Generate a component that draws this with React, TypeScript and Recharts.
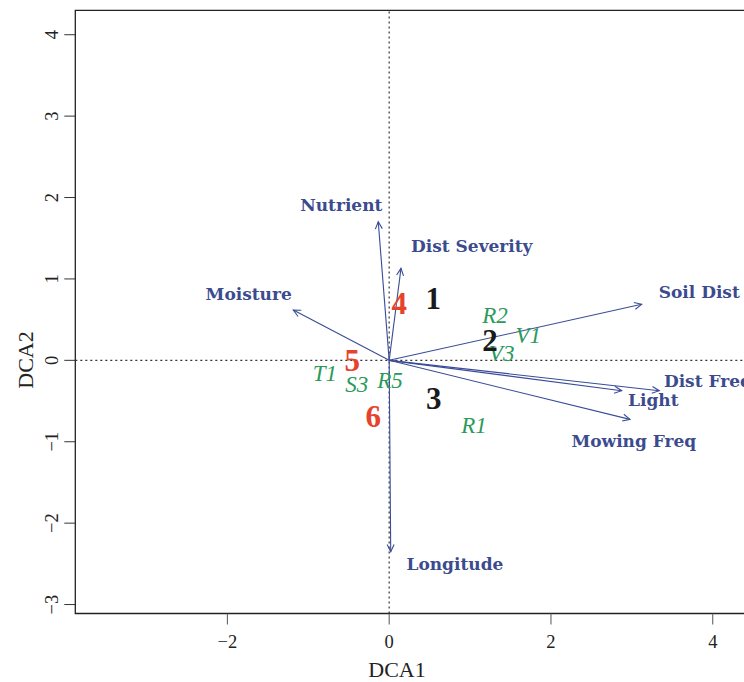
import React from 'react';
import {
    ReferenceArea,
    ReferenceLine,
    Scatter,
    ScatterChart,
    XAxis,
    YAxis,
    Customized,
} from 'recharts';

// environmental vectors (arrow tips) and where their labels sit
const envNames = ['Nutrient', 'Dist Severity', 'Moisture', 'Soil Dist', 'Dist Freq', 'Light', 'Mowing Freq', 'Longitude'];
const envTipX = [-0.135, 0.146, -1.185, 3.121, 3.339, 2.874, 2.977, 0.019];
const envTipY = [1.703, 1.13, 0.618, 0.688, -0.373, -0.373, -0.725, -2.351];
const envLabelX = [-0.592, 1.021, -1.737, 3.833, 3.94, 3.265, 3.024, 0.813];
const envLabelY = [1.908, 1.408, 0.814, 0.843, -0.254, -0.488, -0.988, -2.506];

// site numbers
const siteNames = ['1', '2', '3', '4', '5', '6'];
const siteX = [0.545, 1.246, 0.552, 0.126, -0.456, -0.196];
const siteY = [0.762, 0.249, -0.467, 0.7, 0.004, -0.693];
const siteRed = [false, false, false, true, true, true];

// species codes
const speciesNames = ['R2', 'V1', 'V3', 'T1', 'S3', 'R5', 'R1'];
const speciesX = [1.308, 1.72, 1.39, -0.794, -0.402, 0.01, 1.048];
const speciesY = [0.556, 0.299, 0.086, -0.16, -0.291, -0.242, -0.795];

const xTicks = [-2, 0, 2, 4];
const yTicks = [-3, -2, -1, 0, 1, 2, 3, 4];
const xDomain: [number, number] = [-3.88, 4.5];
const yDomain: [number, number] = [-3.11, 4.3];

const BLUE = '#3b4b8e';
const ARROW = '#3a4c97';
const RED = '#e6432c';
const GREEN = '#2a9a5a';
const SERIF = '"Liberation Serif", "Times New Roman", serif';
const LABEL_FONT = '"DejaVu Serif", serif';

const envLabels = envNames.map((name, i) => ({ name, x: envLabelX[i], y: envLabelY[i] }));
const sites = siteNames.map((name, i) => ({ name, x: siteX[i], y: siteY[i], red: siteRed[i] }));
const species = speciesNames.map((name, i) => ({ name, x: speciesX[i], y: speciesY[i] }));

const fmt = (v: number) => (v < 0 ? `\u2212${Math.abs(v)}` : `${v}`);

function Arrow(props: any) {
    const { x1, y1, x2, y2 } = props;
    const ang = Math.atan2(y2 - y1, x2 - x1);
    const len = 8;
    const a = 0.45;
    const p1 = `${x2 - len * Math.cos(ang - a)},${y2 - len * Math.sin(ang - a)}`;
    const p2 = `${x2 - len * Math.cos(ang + a)},${y2 - len * Math.sin(ang + a)}`;
    return (
        <g>
            <line x1={x1} y1={y1} x2={x2} y2={y2} stroke={ARROW} strokeWidth={1.1} />
            <polyline points={`${p1} ${x2},${y2} ${p2}`} fill="none" stroke={ARROW} strokeWidth={1.1} />
        </g>
    );
}

function XTick({ x, y, payload }: any) {
    return (
        <text x={x} y={y + 23} textAnchor="middle" fontFamily={SERIF} fontSize={18.5} fill="#222">
            {fmt(payload.value)}
        </text>
    );
}

function YTick({ x, y, payload }: any) {
    const tx = x - 6;
    return (
        <text
            x={tx}
            y={y}
            transform={`rotate(-90, ${tx}, ${y})`}
            textAnchor="middle"
            fontFamily={SERIF}
            fontSize={18.5}
            fill="#222"
        >
            {fmt(payload.value)}
        </text>
    );
}

function EnvText({ cx, cy, payload }: any) {
    return (
        <text x={cx} y={cy} textAnchor="middle" dominantBaseline="central" fontFamily={LABEL_FONT} fontWeight="bold" fontSize={17} fill={BLUE}>
            {payload.name}
        </text>
    );
}

function SiteText({ cx, cy, payload }: any) {
    return (
        <text x={cx} y={cy} textAnchor="middle" dominantBaseline="central" fontFamily={SERIF} fontWeight="bold" fontSize={31} fill={payload.red ? RED : '#1a1a1a'}>
            {payload.name}
        </text>
    );
}

function SpeciesText({ cx, cy, payload }: any) {
    return (
        <text x={cx} y={cy} textAnchor="middle" dominantBaseline="central" fontFamily={SERIF} fontStyle="italic" fontSize={23} fill={GREEN}>
            {payload.name}
        </text>
    );
}

function Titles() {
    return (
        <g fontFamily={SERIF} fontSize={22} fill="#222">
            <text x={397} y={669} textAnchor="middle" dominantBaseline="central">DCA1</text>
            <text x={25} y={360} textAnchor="middle" dominantBaseline="central" transform="rotate(-90, 25, 360)">DCA2</text>
        </g>
    );
}

export default function App() {
    return (
        <div style={{ position: 'absolute', left: 0, top: 0, width: 744, height: 682, overflow: 'hidden', background: '#fff' }}>
            <ScatterChart width={790} height={682} margin={{ top: 10.3, right: 36.8, bottom: 0, left: 0 }}>
                <XAxis
                    type="number"
                    dataKey="x"
                    domain={xDomain}
                    allowDataOverflow
                    ticks={xTicks}
                    axisLine={false}
                    tickLine={{ stroke: '#555' }}
                    tickSize={11}
                    tickMargin={0}
                    tick={<XTick />}
                    height={68.5}
                />
                <YAxis
                    type="number"
                    dataKey="y"
                    domain={yDomain}
                    allowDataOverflow
                    ticks={yTicks}
                    axisLine={false}
                    tickLine={{ stroke: '#333' }}
                    tickSize={11}
                    tickMargin={0}
                    tick={<YTick />}
                    width={75.3}
                />
                <ReferenceArea x1={xDomain[0]} x2={xDomain[1]} y1={yDomain[0]} y2={yDomain[1]} fill="none" fillOpacity={0} stroke="#222" strokeWidth={1.3} />
                <ReferenceLine x={0} stroke="#333" strokeDasharray="2 3" strokeWidth={1.2} />
                <ReferenceLine y={0} stroke="#333" strokeDasharray="2 3" strokeWidth={1.2} />
                {envNames.map((name, i) => (
                    <ReferenceLine
                        key={name}
                        segment={[{ x: 0, y: 0 }, { x: envTipX[i], y: envTipY[i] }]}
                        shape={<Arrow />}
                    />
                ))}
                <Scatter data={envLabels} shape={<EnvText />} isAnimationActive={false} />
                <Scatter data={species} shape={<SpeciesText />} isAnimationActive={false} />
                <Scatter data={sites} shape={<SiteText />} isAnimationActive={false} />
                <Customized component={<Titles />} />
            </ScatterChart>
        </div>
    );
}
